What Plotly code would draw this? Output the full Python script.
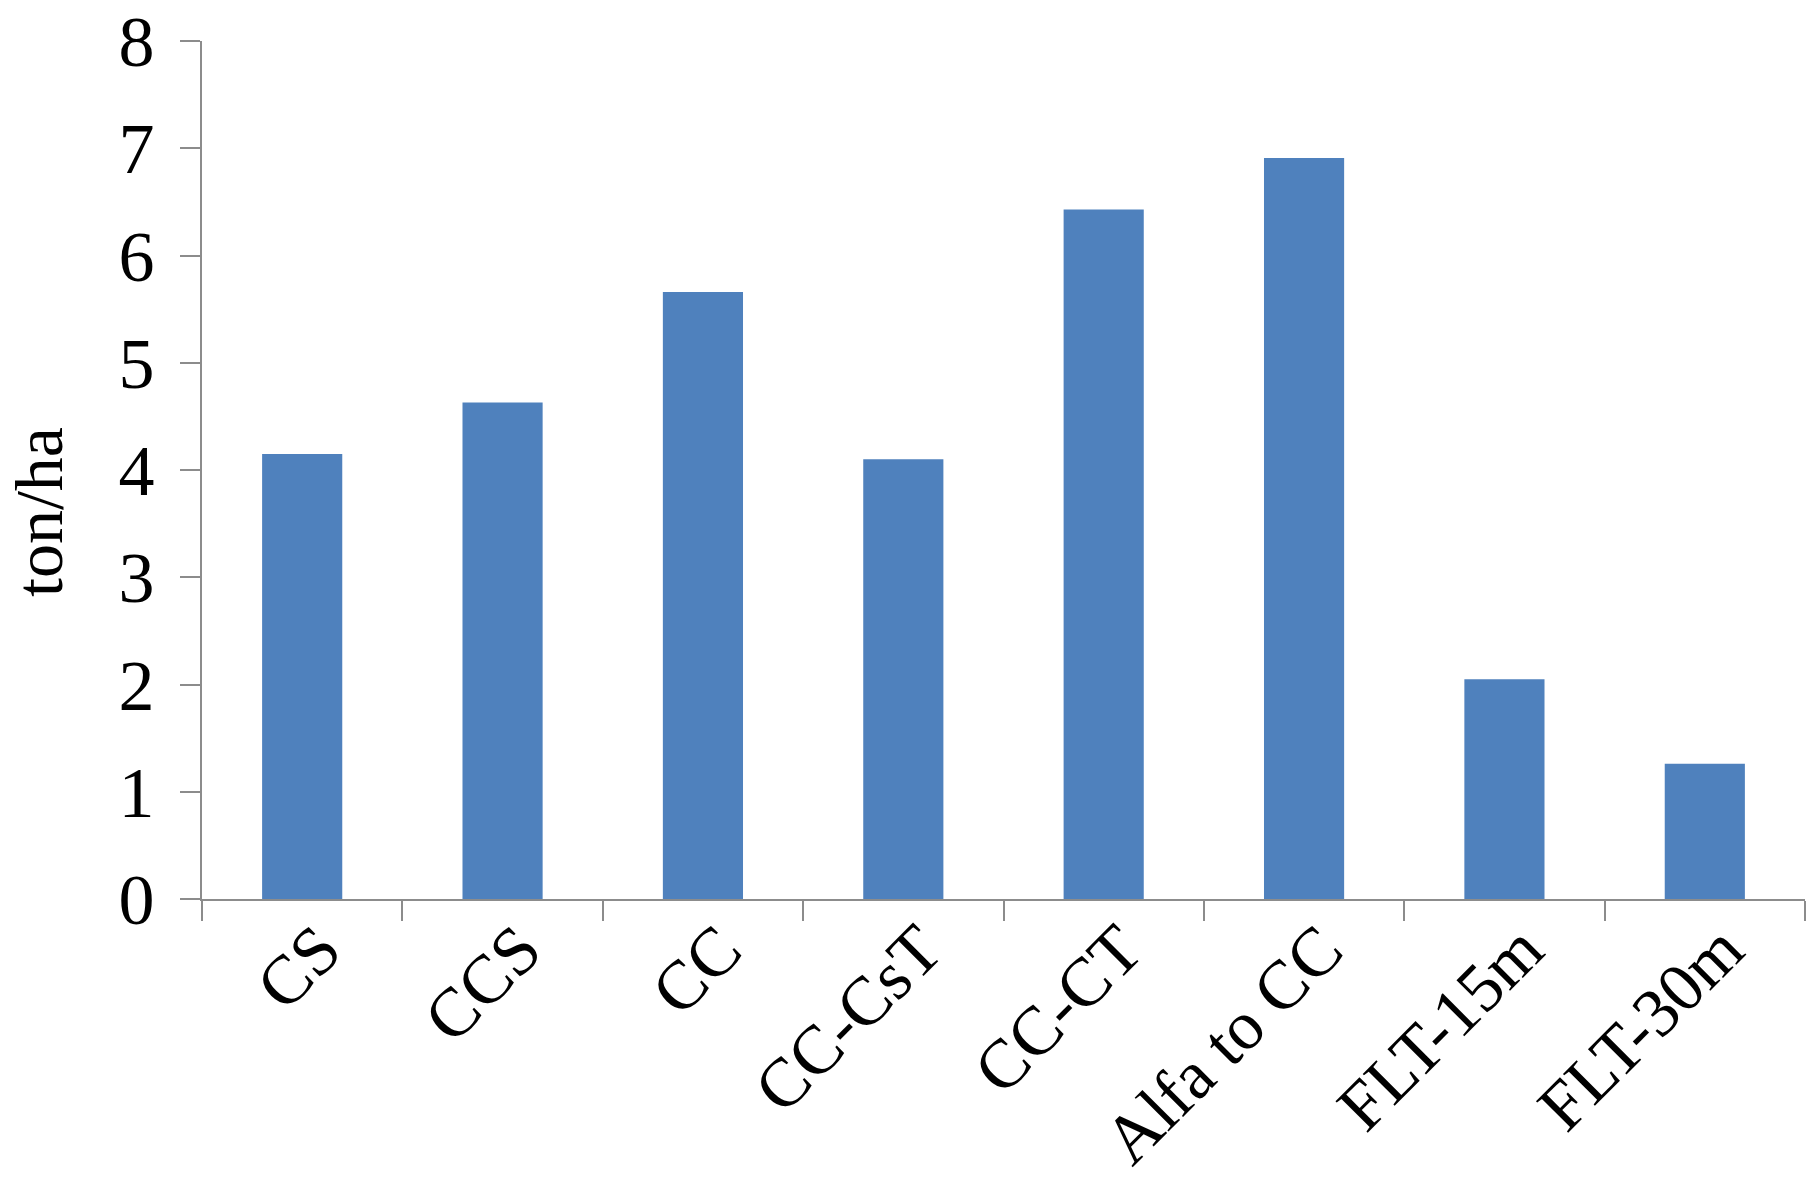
import plotly.graph_objects as go

categories = ["CS", "CCS", "CC", "CC-CsT", "CC-CT", "Alfa to CC", "FLT-15m", "FLT-30m"]
values = [4.15, 4.63, 5.66, 4.10, 6.43, 6.91, 2.05, 1.26]
y_ticks = [0, 1, 2, 3, 4, 5, 6, 7, 8]

# page has an 8px body margin, so the figure is sized to fit inside the window
W, H = 1802, 1163
L, R, T, B = 194, 5, 33, 272
plot_w = W - L - R
plot_h = H - T - B

FONT = "Liberation Serif, Times New Roman, serif"
AXIS_COL = "#8c8c8c"

fig = go.Figure(
    go.Bar(
        x=categories,
        y=values,
        marker=dict(color="#4f81bd", line=dict(width=0)),
        width=0.4,
    )
)

fig.update_layout(
    width=W,
    height=H,
    margin=dict(l=L, r=R, t=T, b=B, pad=0, autoexpand=False),
    paper_bgcolor="white",
    plot_bgcolor="white",
    showlegend=False,
    font=dict(family=FONT, color="black"),
    xaxis=dict(
        type="category",
        automargin=False,
        showline=True,
        linecolor=AXIS_COL,
        linewidth=2,
        ticks="outside",
        tickson="boundaries",
        ticklen=20,
        tickwidth=2,
        tickcolor=AXIS_COL,
        showgrid=False,
        tickangle=-45,
        tickfont=dict(family=FONT, size=69, color="black"),
        ticklabelstandoff=-20,
        ticklabelshift=18,
        ticklabeloverflow="allow",
        range=[-0.5, len(categories) - 0.5],
    ),
    yaxis=dict(
        automargin=False,
        range=[0, 8],
        tickvals=y_ticks,
        ticktext=[str(v) for v in y_ticks],
        showline=True,
        linecolor=AXIS_COL,
        linewidth=2,
        ticks="outside",
        ticklen=20,
        tickwidth=2,
        tickcolor=AXIS_COL,
        showgrid=False,
        zeroline=False,
        tickfont=dict(family=FONT, size=72, color="black"),
        ticklabelstandoff=11,
        ticklabeloverflow="allow",
    ),
    annotations=[
        dict(
            text="ton/ha",
            textangle=-90,
            xref="paper",
            yref="paper",
            x=(31 - L) / plot_w,
            y=(H - B - 504) / plot_h,
            xanchor="center",
            yanchor="middle",
            showarrow=False,
            font=dict(family=FONT, size=68, color="black"),
        )
    ],
)

fig.write_html("out.html")
